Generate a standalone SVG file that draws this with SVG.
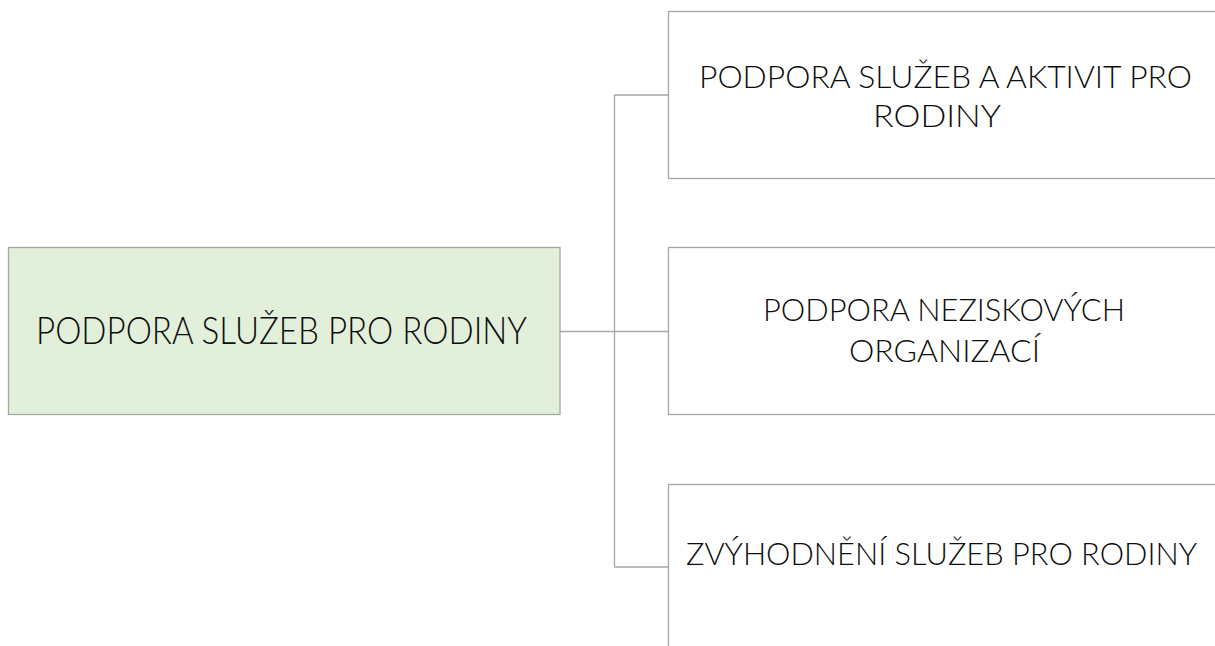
<svg xmlns="http://www.w3.org/2000/svg" width="1215" height="646" viewBox="0 0 1215 646">
<style>
.box{fill:#ffffff;stroke:#a6a6a6;stroke-width:1.3}
.main{fill:#e2efda;stroke:#a6a6a6;stroke-width:1.3}
.t{font-family:Lato,"Open Sans","Liberation Sans",sans-serif;font-weight:300;font-size:32px;fill:#0d0d0d;text-anchor:middle}
.big{font-size:37px}
.c{fill:none;stroke:#a6a6a6;stroke-width:1.3}
</style>
<rect width="1215" height="646" fill="#ffffff"/>
<g id="connectors">
<path class="c" d="M560,331.5 H614.5 M614.5,95 V567 M614.5,95 H668.5 M614.5,331.5 H668.5 M614.5,567 H668.5"/>
</g>
<g id="root">
<rect class="main" x="8.5" y="247.5" width="551.5" height="167"/>
<text class="t big" x="281.5" y="343.5" textLength="491" lengthAdjust="spacingAndGlyphs">PODPORA SLUŽEB PRO RODINY</text>
</g>
<g id="n1">
<rect class="box" x="668.5" y="11.5" width="551" height="167"/>
<text class="t" x="945.5" y="88" textLength="493" lengthAdjust="spacingAndGlyphs">PODPORA SLUŽEB A AKTIVIT PRO</text>
<text class="t" x="937" y="127" textLength="128" lengthAdjust="spacingAndGlyphs">RODINY</text>
</g>
<g id="n2">
<rect class="box" x="668.5" y="247.5" width="551" height="167"/>
<text class="t" x="944" y="321" textLength="362" lengthAdjust="spacingAndGlyphs">PODPORA NEZISKOVÝCH</text>
<text class="t" x="944.5" y="362" textLength="191" lengthAdjust="spacingAndGlyphs">ORGANIZACÍ</text>
</g>
<g id="n3">
<rect class="box" x="668.5" y="484.5" width="551" height="167"/>
<text class="t" x="941.5" y="565" textLength="511" lengthAdjust="spacingAndGlyphs">ZVÝHODNĚNÍ SLUŽEB PRO RODINY</text>
</g>
</svg>
